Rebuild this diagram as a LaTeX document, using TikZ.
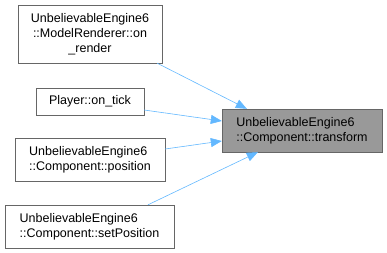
\documentclass[tikz,border=0pt]{standalone}
\usepackage{fontspec}
\setmainfont{Liberation Sans}
\usetikzlibrary{arrows.meta}

\definecolor{grey40}{HTML}{666666}
\definecolor{grey60}{HTML}{999999}
\definecolor{steelblue1}{HTML}{63B8FF}

\tikzset{fn/.style={draw=grey40, fill=white, rectangle, inner sep=0pt,
          font=\fontsize{12.5}{15}\selectfont},
         cur/.style={fn, fill=grey60},
         call/.style={draw=steelblue1, semithick, -{Triangle[length=11pt,width=9pt]}}}

\begin{document}
\begin{tikzpicture}[x=1pt, y=-1pt]
\useasboundingbox (0,0) rectangle (387,253);
\node[cur, minimum width=160pt, minimum height=43pt, align=left] (transform) at (302,130.5)
  {UnbelievableEngine6\\::Component::transform};
\node[fn, minimum width=144pt, minimum height=58pt, align=center] (onrender) at (90,34)
  {UnbelievableEngine6\\::ModelRenderer::on\\\_render};
\node[fn, minimum width=108pt, minimum height=27pt] (ontick) at (90,101.5)
  {Player::on\_tick};
\node[fn, minimum width=150pt, minimum height=43pt, align=left] (position) at (90,159.5)
  {UnbelievableEngine6\\::Component::position};
\node[fn, minimum width=169pt, minimum height=43pt, align=left] (setpos) at (89.5,226.5)
  {UnbelievableEngine6\\::Component::setPosition};
% callers
\draw[call] ([xshift=-5pt]onrender.south east) -- ([xshift=25pt]transform.north west);
\draw[call] ([yshift=-8.5pt]ontick.east) -- ([yshift=9.5pt]transform.west);
\draw[call] ([yshift=10.5pt]position.east) -- ([yshift=-10.5pt]transform.west);
\draw[call] ([xshift=58.5pt]setpos.north) -- ([xshift=36pt]transform.south west);
\end{tikzpicture}
\end{document}
